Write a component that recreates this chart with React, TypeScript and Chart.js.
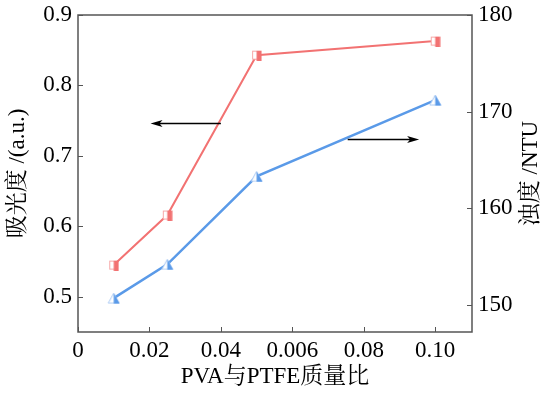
import React, { useEffect, useRef } from "react";
import { Chart, registerables } from "chart.js";

Chart.register(...registerables);

const ratios = [0.01, 0.025, 0.05, 0.1];
const absorbance = [0.545, 0.616, 0.843, 0.863];
const turbidity = [150.7, 154.2, 163.3, 171.2];

const xTickValues = [0, 0.02, 0.04, 0.06, 0.08, 0.1];
const xTickLabels = ["0", "0.02", "0.04", "0.006", "0.08", "0.10"];
const yLeftTicks = [0.5, 0.6, 0.7, 0.8, 0.9];
const yRightTicks = [150, 160, 170, 180];

const xTitle = "PVA与PTFE质量比";
const yLeftTitle = "吸光度 /(a.u.)";
const yRightTitle = "浊度 /NTU";

// arrow annotations in data space: [x1, y1, x2, y2]
const arrowToLeft = [0.04, 0.747, 0.0203, 0.747];
const arrowToRight = [0.0755, 167.2, 0.0955, 167.2];

const RED = "#f27272";
const RED_LIGHT = "#f7a8a8";
const BLUE = "#5a9ae8";
const BLUE_LIGHT = "#a9c9f3";
const FONT = "'Liberation Serif', 'Noto Serif CJK SC', 'Noto Sans CJK SC', serif";

function makeSquare() {
  const c = document.createElement("canvas");
  c.width = 11;
  c.height = 11;
  const ctx = c.getContext("2d")!;
  ctx.fillStyle = "#ffffff";
  ctx.fillRect(1, 1, 9, 9);
  ctx.strokeStyle = RED_LIGHT;
  ctx.lineWidth = 1;
  ctx.strokeRect(1.5, 1.5, 8, 8);
  ctx.fillStyle = RED;
  ctx.fillRect(5.5, 1, 5, 10);
  return c;
}

function makeTriangle() {
  const c = document.createElement("canvas");
  c.width = 13;
  c.height = 12;
  const ctx = c.getContext("2d")!;
  ctx.beginPath();
  ctx.moveTo(6.5, 1);
  ctx.lineTo(12, 11);
  ctx.lineTo(1, 11);
  ctx.closePath();
  ctx.fillStyle = "#ffffff";
  ctx.fill();
  ctx.strokeStyle = BLUE_LIGHT;
  ctx.lineWidth = 1;
  ctx.stroke();
  ctx.beginPath();
  ctx.moveTo(6.5, 1);
  ctx.lineTo(12.5, 11.5);
  ctx.lineTo(6.5, 11.5);
  ctx.closePath();
  ctx.fillStyle = BLUE;
  ctx.fill();
  return c;
}

const noPadV = (s: any) => {
  s.paddingTop = 0;
  s.paddingBottom = 0;
};

export default function App() {
  const ref = useRef<HTMLCanvasElement | null>(null);

  useEffect(() => {
    if (!ref.current) return;
    const sq = makeSquare();
    const tri = makeTriangle();

    const framePlugin = {
      id: "frame",
      afterDraw(chart: any) {
        const { ctx, chartArea } = chart;
        const x = chart.scales.x;
        const y = chart.scales.y;
        const y2 = chart.scales.y2;
        ctx.save();
        ctx.strokeStyle = "#555555";
        ctx.lineWidth = 1.5;
        ctx.strokeRect(chartArea.left, chartArea.top, chartArea.right - chartArea.left, chartArea.bottom - chartArea.top);
        ctx.lineWidth = 1;
        ctx.beginPath();
        const tl = 5;
        xTickValues.forEach((v) => {
          const px = Math.round(x.getPixelForValue(v)) + 0.5;
          ctx.moveTo(px, chartArea.bottom);
          ctx.lineTo(px, chartArea.bottom - tl);
        });
        yLeftTicks.forEach((v) => {
          const py = Math.round(y.getPixelForValue(v)) + 0.5;
          ctx.moveTo(chartArea.left, py);
          ctx.lineTo(chartArea.left + tl, py);
        });
        yRightTicks.forEach((v) => {
          const py = Math.round(y2.getPixelForValue(v)) + 0.5;
          ctx.moveTo(chartArea.right, py);
          ctx.lineTo(chartArea.right - tl, py);
        });
        ctx.stroke();

        // arrows
        const drawArrow = (a: number[], ys: any) => {
          const x1 = x.getPixelForValue(a[0]);
          const y1 = Math.round(ys.getPixelForValue(a[1])) + 0.5;
          const x2 = x.getPixelForValue(a[2]);
          const dir = x2 > x1 ? 1 : -1;
          ctx.strokeStyle = "#000000";
          ctx.fillStyle = "#000000";
          ctx.lineWidth = 1.3;
          ctx.beginPath();
          ctx.moveTo(x1, y1);
          ctx.lineTo(x2 - dir * 6, y1);
          ctx.stroke();
          ctx.beginPath();
          ctx.moveTo(x2, y1);
          ctx.lineTo(x2 - dir * 12, y1 - 3.5);
          ctx.lineTo(x2 - dir * 9, y1);
          ctx.lineTo(x2 - dir * 12, y1 + 3.5);
          ctx.closePath();
          ctx.fill();
        };
        drawArrow(arrowToLeft, y);
        drawArrow(arrowToRight, y2);

        // right title, reading bottom to top
        ctx.save();
        ctx.fillStyle = "#000000";
        ctx.font = `23px ${FONT}`;
        ctx.textAlign = "center";
        ctx.textBaseline = "middle";
        ctx.translate(531, (chartArea.top + chartArea.bottom) / 2);
        ctx.rotate(-Math.PI / 2);
        ctx.fillText(yRightTitle, 0, 0);
        ctx.restore();
        ctx.restore();
      },
    };

    const chart = new Chart(ref.current, {
      type: "line",
      data: {
        datasets: [
          {
            label: "吸光度",
            data: ratios.map((r, i) => ({ x: r, y: absorbance[i] })),
            borderColor: RED,
            borderWidth: 2,
            pointStyle: sq as any,
            pointRadius: 5,
            yAxisID: "y",
          },
          {
            label: "浊度",
            data: ratios.map((r, i) => ({ x: r, y: turbidity[i] })),
            borderColor: BLUE,
            borderWidth: 2.5,
            pointStyle: tri as any,
            pointRadius: 6,
            yAxisID: "y2",
          },
        ],
      },
      options: {
        animation: false,
        responsive: false,
        events: [],
        layout: { padding: { top: 15, left: 0, right: 0, bottom: 0 } },
        plugins: { legend: { display: false }, tooltip: { enabled: false } },
        scales: {
          x: {
            type: "linear",
            min: 0,
            max: 0.1103,
            afterBuildTicks: (s: any) => {
              s.ticks = xTickValues.map((v) => ({ value: v }));
            },
            afterFit: (s: any) => {
              s.height = 69;
              s.paddingLeft = 0;
              s.paddingRight = 0;
            },
            grid: { display: true, drawOnChartArea: false, drawTicks: false },
            border: { display: false },
            ticks: {
              padding: 5,
              color: "#000",
              maxRotation: 0,
              autoSkip: false,
              font: { family: FONT, size: 23 },
              callback: (_v: any, i: number) => xTickLabels[i],
            },
            title: {
              display: true,
              text: xTitle,
              color: "#000",
              font: { family: FONT, size: 23 },
              padding: { top: 0, bottom: 10 },
            },
          },
          y: {
            type: "linear",
            position: "left",
            min: 0.45,
            max: 0.9,
            afterBuildTicks: (s: any) => {
              s.ticks = yLeftTicks.map((v) => ({ value: v }));
            },
            afterFit: (s: any) => {
              s.width = 78;
              noPadV(s);
            },
            grid: { display: true, drawOnChartArea: false, drawTicks: false },
            border: { display: false },
            ticks: {
              padding: 6,
              color: "#000",
              font: { family: FONT, size: 23 },
              callback: (v: any) => Number(v).toFixed(1),
            },
            title: {
              display: true,
              text: yLeftTitle,
              color: "#000",
              font: { family: FONT, size: 23 },
              padding: { top: 4, bottom: 0 },
            },
          },
          y2: {
            type: "linear",
            position: "right",
            min: 147.2,
            max: 180,
            afterBuildTicks: (s: any) => {
              s.ticks = yRightTicks.map((v) => ({ value: v }));
            },
            afterFit: (s: any) => {
              s.width = 74;
              noPadV(s);
            },
            grid: { display: true, drawOnChartArea: false, drawTicks: false },
            border: { display: false },
            ticks: {
              padding: 6,
              color: "#000",
              font: { family: FONT, size: 23 },
              callback: (v: any) => String(v),
            },
          },
        },
      },
      plugins: [framePlugin],
    });
    return () => chart.destroy();
  }, []);

  return (
    <div style={{ position: "fixed", left: 0, top: 0, width: 546, height: 401, background: "#fff" }}>
      <canvas ref={ref} width={546} height={401} />
    </div>
  );
}
